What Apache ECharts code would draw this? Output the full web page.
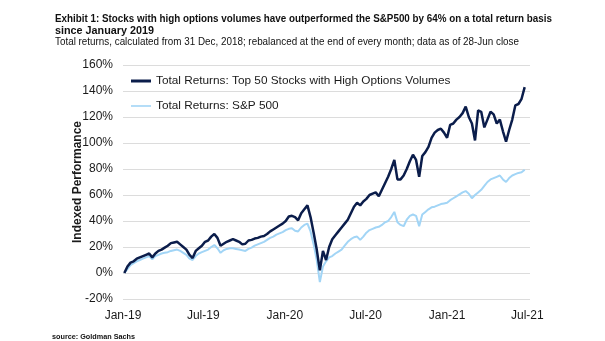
<!DOCTYPE html>
<html>
<head>
<meta charset="utf-8">
<script src="https://cdn.jsdelivr.net/npm/echarts@6/dist/echarts.min.js"></script>
<style>
  html, body { margin: 0; padding: 0; background: #fff; }
  #chart { width: 605px; height: 341px; }
</style>
</head>
<body>
<div id="chart"></div>
<script>
// Weekly total returns (%), Fridays from the first week of 2019
const startDate = '2019-01-04';

const topOptionsVolume = [
  0, 5, 8, 9, 11, 12, 13, 14, 15, 12,
  15, 17, 18, 19.5, 21, 23, 23.5, 24, 22, 20,
  18, 14, 11.5, 17, 19, 21, 24, 25, 28, 30,
  27, 21, 22.5, 24, 25, 26, 25, 24, 22, 22.5,
  25, 25.5, 26.5, 27, 28, 28.5, 30, 32, 33.5, 35,
  36.5, 38, 40, 43.5, 44, 43, 40.5, 46, 49, 52,
  43, 31, 18, 2, 17, 10, 20, 26, 29, 32,
  35, 38, 41, 46, 51, 54, 52, 55, 57, 60,
  61, 62, 59, 64, 69, 74, 80, 87, 72, 72,
  75, 80, 86, 91, 87, 74, 90, 93, 97, 104,
  108, 110, 111, 108, 104, 114, 115, 118, 120, 123,
  128, 120, 115, 102, 125, 124, 112, 118, 124, 122,
  115, 118, 109, 101, 110, 118, 129, 130, 134, 143
];

const sp500 = [
  0, 3, 6, 7.5, 9, 10, 11, 12, 13, 10.5,
  13, 14, 15, 15.5, 16, 17, 17.5, 18, 17, 15.5,
  14, 11, 10, 13, 15, 16, 17, 18, 20, 21.5,
  19, 15.5, 17.5, 18.5, 19, 19, 18.5, 18, 17.5, 17,
  18.5, 19.5, 21, 22, 23, 24, 25.5, 27, 28, 29.5,
  30.5, 31.5, 33, 34, 34.5, 32.5, 32, 35, 37, 38,
  32, 22, 10, -7, 5, 9, 12, 13, 15, 16.5,
  18, 21, 24, 26, 27.5, 28, 25.5, 28, 31, 33,
  34, 35, 35.5, 37, 39, 40, 43, 47, 39, 37,
  36, 41, 44, 45, 44, 36, 45, 47, 49, 50.5,
  51, 52, 53, 53.5, 54, 56, 57.5, 59, 60.5, 62,
  63, 61, 57.5, 60, 62, 64, 67, 70, 72, 73,
  74, 75, 72, 70, 73, 75, 76, 77, 77.5, 79.5
];

const tickDates = ['2019-01-01', '2019-07-01', '2020-01-01', '2020-07-01', '2021-01-01', '2021-07-01'];
const tickLabels = ['Jan-19', 'Jul-19', 'Jan-20', 'Jul-20', 'Jan-21', 'Jul-21'];
const axisEndDate = '2021-07-07';

const seriesNames = [
  'Total Returns: Top 50 Stocks with High Options Volumes',
  'Total Returns: S&P 500'
];

const headline = [
  'Exhibit 1: Stocks with high options volumes have outperformed the S&P500 by 64% on a total return basis',
  'since January 2019'
];
const subline = 'Total returns, calculated from 31 Dec, 2018; rebalanced at the end of every month; data as of 28-Jun close';
const sourceNote = 'source: Goldman Sachs';

// x positions are days counted from the first axis date
const DAY = 86400000;
const dayOf = d => Math.round((Date.parse(d + 'T00:00:00Z') - Date.parse(tickDates[0] + 'T00:00:00Z')) / DAY);
const firstWeek = dayOf(startDate);
const toPairs = vals => vals.map((v, i) => [firstWeek + i * 7, v]);
const tickDays = tickDates.map(dayOf);

const NAVY = '#0b1d4b';
const SKY = '#a2d5f6';
const TEXT = '#1a1a1a';
const SANS = '"Liberation Sans", Arial, sans-serif';

// condensed look for the header: squeeze a regular face horizontally to a set width
const measureCtx = document.createElement('canvas').getContext('2d');
function squeezed(text, font, width, left, top) {
  measureCtx.font = font;
  const w = measureCtx.measureText(text).width;
  return {
    type: 'text',
    x: left,
    y: top,
    scaleX: width / w,
    style: { text, font, fill: '#111', textBaseline: 'middle' }
  };
}

const chart = echarts.init(document.getElementById('chart'), null, { renderer: 'canvas' });

chart.setOption({
  animation: false,
  backgroundColor: '#ffffff',
  graphic: [
    squeezed(headline[0], 'bold 11.5px "Liberation Sans"', 497, 55, 12.5),
    squeezed(headline[1], 'bold 11.5px "Liberation Sans"', 99, 55, 24.5),
    squeezed(subline, '11px "Liberation Sans"', 464, 55, 36),
    squeezed(sourceNote, 'bold 8px "Liberation Sans"', 83, 52, 333)
  ],
  legend: [
    {
      orient: 'vertical',
      left: 131,
      top: 75,
      padding: 0,
      itemWidth: 20,
      itemHeight: 3,
      icon: 'rect',
      data: [seriesNames[0]],
      textStyle: { fontFamily: SANS, fontSize: 11.8, color: TEXT }
    },
    {
      orient: 'vertical',
      left: 131,
      top: 100,
      padding: 0,
      itemWidth: 20,
      itemHeight: 1.6,
      icon: 'rect',
      data: [seriesNames[1]],
      textStyle: { fontFamily: SANS, fontSize: 11.8, color: TEXT }
    }
  ],
  grid: { left: 123, right: 75, top: 65, bottom: 42 },
  xAxis: {
    type: 'value',
    min: 0,
    max: dayOf(axisEndDate),
    axisLine: { show: false },
    axisTick: { show: false },
    splitLine: { show: false },
    axisLabel: {
      customValues: tickDays,
      margin: 11,
      fontFamily: SANS,
      fontSize: 12,
      color: TEXT,
      formatter: v => {
        const k = tickDays.indexOf(Math.round(v));
        return k >= 0 ? tickLabels[k] : '';
      }
    }
  },
  yAxis: {
    type: 'value',
    min: -20,
    max: 160,
    interval: 20,
    name: 'Indexed Performance',
    nameLocation: 'middle',
    nameGap: 39,
    nameMoveOverlap: false,
    nameTextStyle: {
      fontFamily: SANS,
      fontWeight: 'bold',
      fontSize: 12,
      color: TEXT
    },
    axisLine: { show: false },
    axisTick: { show: false },
    axisLabel: {
      margin: 10,
      fontFamily: SANS,
      fontSize: 12,
      color: TEXT,
      formatter: '{value}%'
    },
    splitLine: { lineStyle: { color: '#dcdcdc', width: 1 } }
  },
  series: [
    {
      name: seriesNames[1],
      type: 'line',
      data: toPairs(sp500),
      symbol: 'none',
      color: SKY,
      lineStyle: { color: SKY, width: 2 },
      z: 2
    },
    {
      name: seriesNames[0],
      type: 'line',
      data: toPairs(topOptionsVolume),
      symbol: 'none',
      color: NAVY,
      lineStyle: { color: NAVY, width: 2.5 },
      z: 3
    }
  ]
});
</script>
</body>
</html>
